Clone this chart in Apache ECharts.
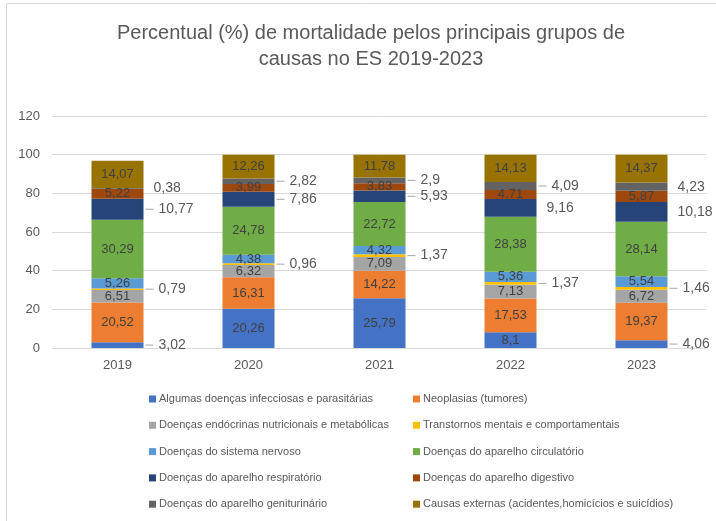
<!DOCTYPE html>
<html>
<head>
<meta charset="utf-8">
<script src="https://cdn.jsdelivr.net/npm/echarts@6/dist/echarts.min.js"></script>
<style>html,body{margin:0;padding:0;background:#fff;}#c{width:716px;height:521px;}</style>
</head>
<body>
<div id="c"></div>
<script>
const years = ['2019', '2020', '2021', '2022', '2023'];
const seriesNames = [
  'Algumas doenças infecciosas e parasitárias',
  'Neoplasias (tumores)',
  'Doenças endócrinas nutricionais e metabólicas',
  'Transtornos mentais e comportamentais',
  'Doenças do sistema nervoso',
  'Doenças do aparelho circulatório',
  'Doenças do aparelho respiratório',
  'Doenças do aparelho digestivo',
  'Doenças do aparelho geniturinário',
  'Causas externas (acidentes,homicícios e suicídios)'
];
const infecciosas   = [3.02, 20.26, 25.79, 8.1, 4.06];
const neoplasias    = [20.52, 16.31, 14.22, 17.53, 19.37];
const endocrinas    = [6.51, 6.32, 7.09, 7.13, 6.72];
const mentais       = [0.79, 0.96, 1.37, 1.37, 1.46];
const nervoso       = [5.26, 4.38, 4.32, 5.36, 5.54];
const circulatorio  = [30.29, 24.78, 22.72, 28.38, 28.14];
const respiratorio  = [10.77, 7.86, 5.93, 9.16, 10.18];
const digestivo     = [5.22, 3.99, 3.83, 4.71, 5.87];
const geniturinario = [0.38, 2.82, 2.9, 4.09, 4.23];
const externas      = [14.07, 12.26, 11.78, 14.13, 14.37];
const yTickMin = 0, yTickMax = 120, yTickStep = 20;

const allValues = [infecciosas, neoplasias, endocrinas, mentais, nervoso, circulatorio, respiratorio, digestivo, geniturinario, externas];
const colors = ['#4472C4', '#ED7D31', '#A5A5A5', '#FFC000', '#5B9BD5', '#70AD47', '#264478', '#9E480E', '#636363', '#997300'];
// label placement: which points are labelled outside (right of bar), and which of those have no leader line
const outsideMap = {0: [0, 4], 3: [0,1,2,3,4], 6: [0,1,2,3,4], 8: [0,1,2,3,4]};
const noLeaderMap = {6: [3, 4], 8: [0, 4]};

const FONT = "'Liberation Sans', Arial, sans-serif";
const fmt = v => String(v).replace('.', ',');

const series = allValues.map((vals, si) => {
  const outs = outsideMap[si] || [];
  const noLead = noLeaderMap[si] || [];
  return {
    name: seriesNames[si],
    type: 'bar',
    stack: 'total',
    barWidth: 52,
    itemStyle: { color: colors[si] },
    label: {
      show: true, position: 'inside', color: '#404040', fontSize: 13, fontFamily: FONT,
      formatter: p => fmt(p.value)
    },
    data: vals.map((v, i) => {
      if (outs.indexOf(i) >= 0) {
        const lead = noLead.indexOf(i) < 0;
        return {
          value: v,
          label: {
            position: 'right', distance: lead ? 2 : 10,
            formatter: p => (lead ? '{l|}' : '') + '{v|' + fmt(p.value) + '}',
            rich: {
              l: { width: 8, height: 1, backgroundColor: '#A6A6A6', verticalAlign: 'middle' },
              v: { color: '#595959', fontSize: 14, fontFamily: FONT, padding: [0, 0, 0, lead ? 5 : 0], verticalAlign: 'middle' }
            }
          }
        };
      }
      return v;
    })
  };
});

const legendText = { color: '#595959', fontSize: 11, fontFamily: FONT, lineHeight: 14, padding: [0, 0, 0, -2] };

const chart = echarts.init(document.getElementById('c'), null, { renderer: 'canvas' });
chart.setOption({
  animation: false,
  backgroundColor: '#ffffff',
  graphic: [{
    type: 'rect', shape: { x: 6.5, y: 3.5, width: 720, height: 530 },
    style: { fill: 'none', stroke: '#D9D9D9', lineWidth: 1 }, silent: true, z: -1
  }],
  title: {
    text: 'Percentual (%) de mortalidade pelos principais grupos de\ncausas no ES 2019-2023',
    left: 366, top: 15, textAlign: 'center',
    textStyle: { color: '#595959', fontSize: 20, fontWeight: 'normal', fontFamily: FONT, lineHeight: 26 }
  },
  grid: { left: 52, right: 9, top: 116, bottom: 173 },
  xAxis: {
    type: 'category', data: years,
    axisLine: { lineStyle: { color: '#D9D9D9' } },
    axisTick: { show: false },
    axisLabel: { color: '#595959', fontSize: 13, fontFamily: FONT, margin: 11 }
  },
  yAxis: {
    type: 'value', min: yTickMin, max: yTickMax, interval: yTickStep,
    axisLine: { show: false }, axisTick: { show: false },
    splitLine: { lineStyle: { color: '#D9D9D9' } },
    axisLabel: { color: '#595959', fontSize: 13, fontFamily: FONT, margin: 12 }
  },
  legend: [
    {
      data: seriesNames.filter((_, i) => i % 2 === 0),
      orient: 'vertical', left: 144, top: 387, itemWidth: 7, itemHeight: 7, itemGap: 12.3,
      icon: 'rect', selectedMode: false, textStyle: legendText
    },
    {
      data: seriesNames.filter((_, i) => i % 2 === 1),
      orient: 'vertical', left: 408, top: 387, itemWidth: 7, itemHeight: 7, itemGap: 12.3,
      icon: 'rect', selectedMode: false, textStyle: legendText
    }
  ],
  series: series
});
</script>
</body>
</html>
